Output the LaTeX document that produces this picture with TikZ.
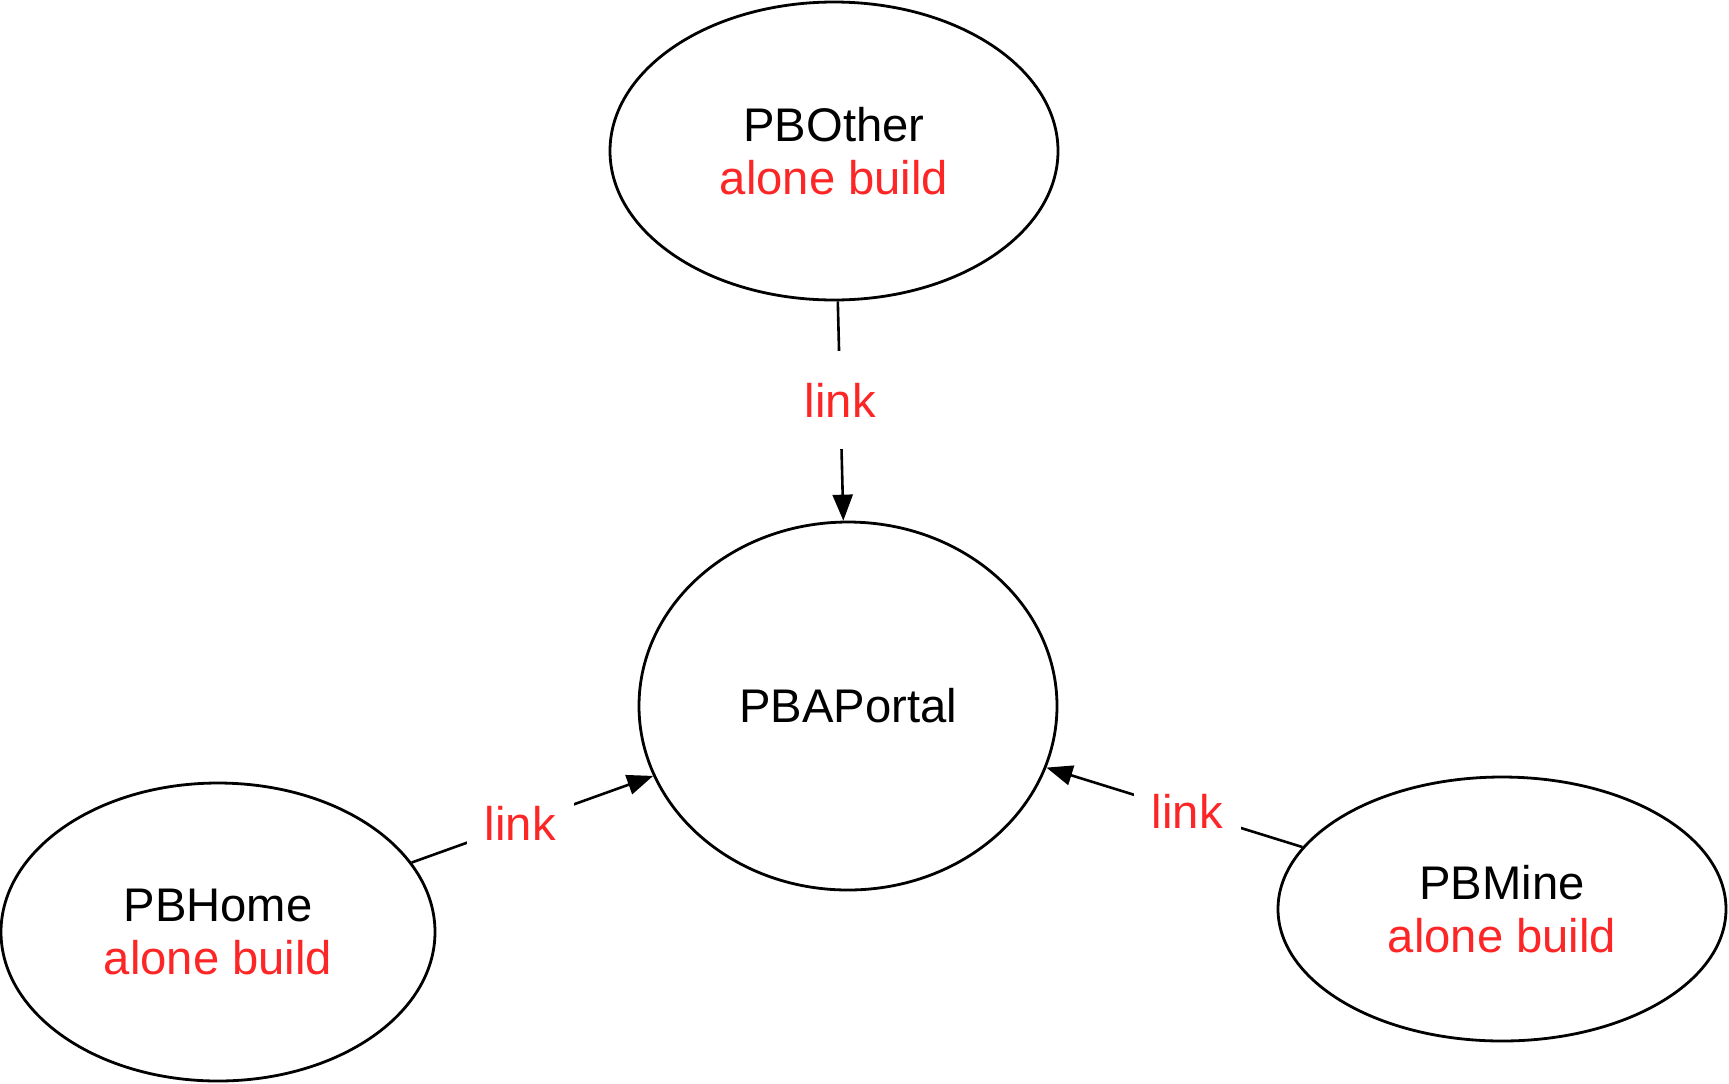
\documentclass[tikz,border=0pt]{standalone}
\usepackage{fontspec}
\setmainfont{Liberation Sans}
\usepackage{tikz}
\usetikzlibrary{shapes,quotes,arrows.meta}
\usepackage{xcolor}
\definecolor{linkred}{RGB}{252,38,38}

\begin{document}
\begin{tikzpicture}[x=0.5pt,y=-0.5pt,>={Triangle[length=13pt,width=10pt]}]
			\tikzstyle{n} = [draw, line width=1.4pt, ellipse, inner sep=0pt, align=center, font=\fontsize{23.6}{26.5}\selectfont]
			\tikzstyle{lbl} = [fill=white, text=linkred, inner xsep=9pt, inner ysep=16pt, font=\fontsize{23.6}{26.5}\selectfont]
			\useasboundingbox (0,0) rectangle (1729,1083);
			
			\node [n,minimum width=224pt,minimum height=149pt] (other) at (834,151) {PBOther\\\textcolor{linkred}{alone build}};
			\node [n,minimum width=209pt,minimum height=184pt] (portal) at (848,706) {PBAPortal};
			\node [n,minimum width=217pt,minimum height=149pt] (home) at (218,932) {PBHome\\\textcolor{linkred}{alone build}};
			\node [n,minimum width=224pt,minimum height=132pt] (mine) at (1502,909) {PBMine\\\textcolor{linkred}{alone build}};
			
			\draw[->, line width=1.3pt] (other) -- (portal) node[pos=0.45,lbl] {link};
			\draw[->, line width=1.3pt] (home) -- (portal) node[pos=0.45,lbl] {link};
			\draw[->, line width=1.3pt] (mine) -- (portal) node[pos=0.45,lbl] {link};
			
		\end{tikzpicture}
\end{document}
